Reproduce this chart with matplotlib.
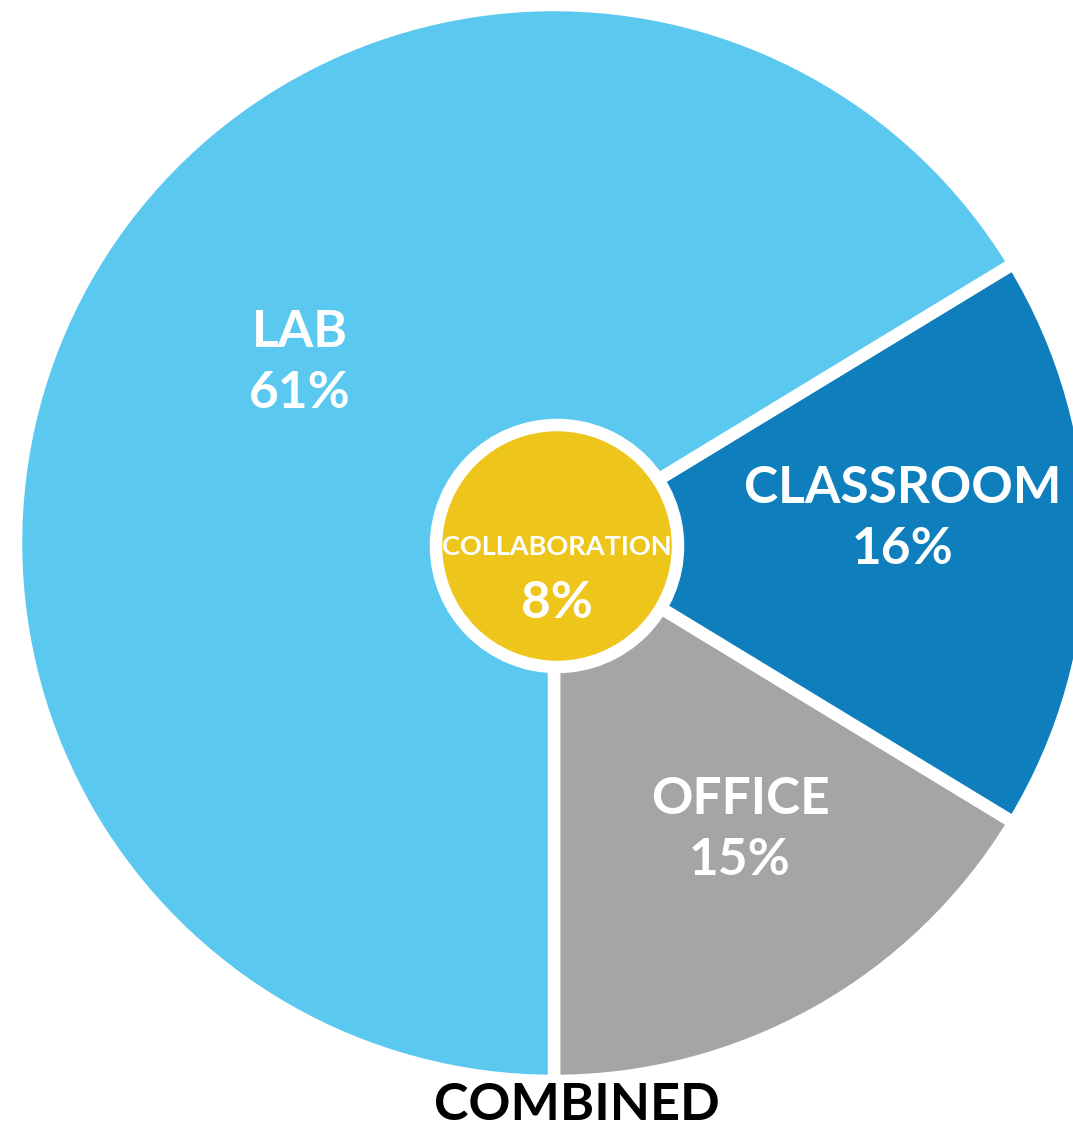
import matplotlib.pyplot as plt
from matplotlib.patches import Circle

# Slice data (collaboration sits in the centre disc, not in the ring)
categories = ["OFFICE", "CLASSROOM", "LAB"]
shares = [15, 16, 61]
colors = ["#A5A5A5", "#0E7FBC", "#5BC8F0"]
center_label = "COLLABORATION"
center_share = 8
center_color = "#EDC51B"
title = "COMBINED"

W, H = 1073, 1129
CX, CY = 554, H - 543
RADIUS = 538

plt.rcParams["font.family"] = ["Lato", "DejaVu Sans"]

fig = plt.figure(figsize=(W / 100, H / 100), dpi=100)
ax = fig.add_axes([0, 0, 1, 1])

ax.pie(
    shares,
    colors=colors,
    startangle=-90,
    counterclock=True,
    center=(CX, CY),
    radius=RADIUS,
    wedgeprops={"edgecolor": "white", "linewidth": 9},
    frame=True,
)
ax.set_xlim(0, W)
ax.set_ylim(0, H)
ax.set_aspect("equal")
ax.axis("off")

ax.add_patch(Circle((CX + 3, CY - 3), 121, facecolor=center_color,
                    edgecolor="white", linewidth=9, zorder=5))

# label positions (offsets from pie centre, px)
label_offsets = {"LAB": (-254, 180), "CLASSROOM": (349, 24), "OFFICE": (186, -287)}
for name, share in zip(categories, shares):
    dx, dy = label_offsets[name]
    ax.text(CX + dx, CY + dy, f"{name}\n{share}%", color="white", fontsize=37,
            fontweight="bold", ha="center", va="center", linespacing=1.35, zorder=6)

ax.text(CX + 3, CY - 4, center_label, color="white", fontsize=19.5,
        fontweight="bold", ha="center", va="center", zorder=6)
ax.text(CX + 3, CY - 60, f"{center_share}%", color="white", fontsize=37,
        fontweight="bold", ha="center", va="center", zorder=6)

ax.text(577, H - 1105, title, color="black", fontsize=37.5,
        fontweight="bold", ha="center", va="center")

fig.savefig("out.png", dpi=100)
